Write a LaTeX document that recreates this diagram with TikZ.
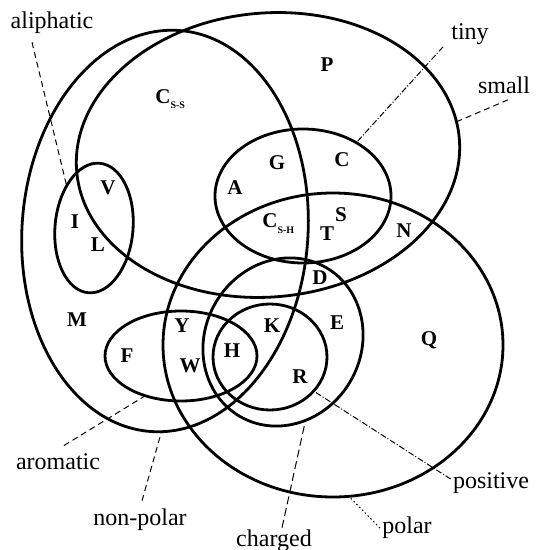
\documentclass[tikz,border=0pt]{standalone}
\usepackage{fontspec}
\setmainfont{Liberation Serif}
\usepackage{tikz}
\usetikzlibrary{shapes.geometric}

\begin{document}
\begin{tikzpicture}[x=0.5pt, y=-0.5pt,
    set/.style={ellipse, draw, line width=1.4pt, inner sep=0pt, outer sep=0pt},
    aa/.style={font=\fontsize{10.5}{12}\selectfont\bfseries, inner sep=0pt},
    tag/.style={font=\fontsize{12}{14}\selectfont, inner sep=1pt},
    callout/.style={line width=0.5pt, dash pattern=on 3pt off 2pt}]
    \useasboundingbox (0,0) rectangle (535,550);

    % 性质集合（椭圆，宽高单位为 pt）
    \node[set, minimum width=143pt, minimum height=201pt, rotate=-4] (nonpolar) at (165,231) {};
    \node[set, minimum width=192pt, minimum height=142pt, rotate=5] (small) at (268,155) {};
    \node[set, minimum width=39pt, minimum height=65pt, rotate=-5] (aliphatic) at (94,228) {};
    \node[set, minimum width=88pt, minimum height=67pt] (tiny) at (303,196) {};
    \node[set, minimum width=170pt, minimum height=152pt] (polar) at (333,345) {};
    \node[set, minimum width=86pt, minimum height=78pt, rotate=60] (charged) at (283,342) {};
    \node[set, minimum width=57pt, minimum height=53pt] (positive) at (270,357) {};
    \node[set, minimum width=76pt, minimum height=45pt] (aromatic) at (181,356) {};

    % 氨基酸
    \node[aa, anchor=base west] (Css) at (155,104) {C\raisebox{-2.5pt}{\fontsize{5}{6}\selectfont S-S}};
    \node[aa, anchor=base west] (Csh) at (262,228) {C\raisebox{-2.5pt}{\fontsize{5}{6}\selectfont S-H}};
    \node[aa] (P) at (327,65) {P};
    \node[aa] (V) at (108,188) {V};
    \node[aa] (I) at (75,222) {I};
    \node[aa] (L) at (98,245) {L};
    \node[aa] (A) at (235,188) {A};
    \node[aa] (G) at (277,163) {G};
    \node[aa] (C) at (342,160) {C};
    \node[aa] (S) at (341,215) {S};
    \node[aa] (T) at (327,234) {T};
    \node[aa] (N) at (404,231) {N};
    \node[aa] (D) at (320,278) {D};
    \node[aa] (E) at (337,323) {E};
    \node[aa] (K) at (272,326) {K};
    \node[aa] (R) at (300,377) {R};
    \node[aa] (Q) at (429,340) {Q};
    \node[aa] (M) at (77,320) {M};
    \node[aa] (F) at (127,356) {F};
    \node[aa] (Y) at (182,326) {Y};
    \node[aa] (W) at (190,366) {W};
    \node[aa] (H) at (232,351) {H};

    % 集合名称与引线
    \node[tag] (alilbl) at (52,23) {aliphatic};
    \node[tag] (tinylbl) at (470,34) {tiny};
    \node[tag] (smalllbl) at (504,85) {small};
    \node[tag] (arolbl) at (58,462) {aromatic};
    \node[tag] (nplbl) at (140,520) {non-polar};
    \node[tag] (chglbl) at (274,541) {charged};
    \node[tag] (poslbl) at (491,483) {positive};
    \node[tag] (polarlbl) at (407,528) {polar};

    \draw[callout] ([xshift=-10pt,yshift=-3pt]alilbl.south) -- (aliphatic.128);
    \draw[callout, dash pattern=on 3pt off 1pt on 0.5pt off 1pt] ([xshift=-3pt]tinylbl.south west) -- (tiny.45);
    \draw[callout] ([xshift=2pt,yshift=-2pt]smalllbl.south) -- (small.5);
    \draw[callout] ([xshift=3pt,yshift=3pt]arolbl.north) -- (aromatic.228);
    \draw[callout] ([xshift=1pt,yshift=3pt]nplbl.north) -- (nonpolar.273);
    \draw[callout, dash pattern=on 4pt off 2pt] ([xshift=4pt]chglbl.north) -- (charged.226);
    \draw[callout, dash pattern=on 3pt off 1pt on 0.5pt off 1pt] ([yshift=2pt]poslbl.west) -- (positive.322);
    \draw[callout, dash pattern=on 0.8pt off 1.2pt] (polarlbl.west) -- (polar.276);
\end{tikzpicture}
\end{document}
